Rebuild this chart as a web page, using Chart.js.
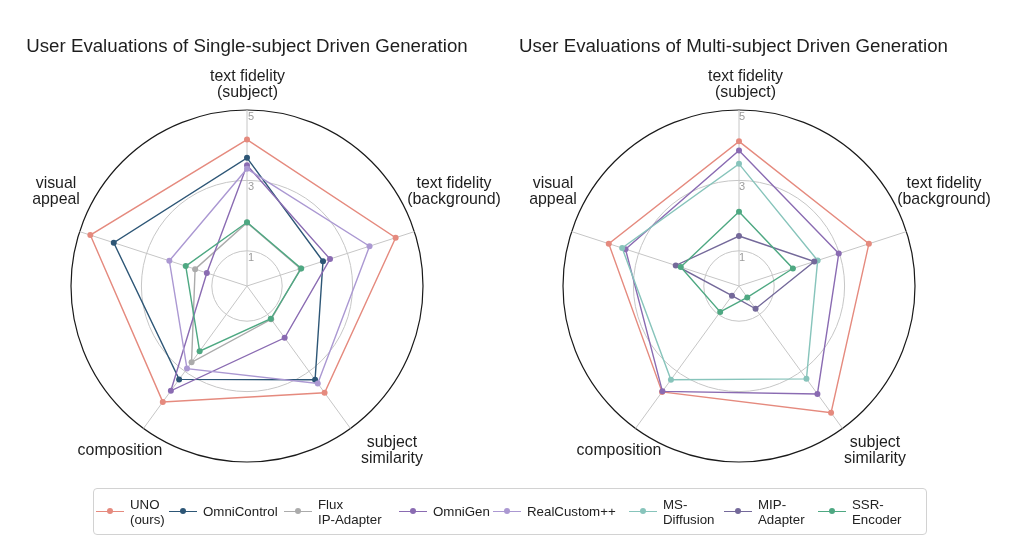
<!DOCTYPE html>
<html><head><meta charset="utf-8">
<script src="https://cdn.jsdelivr.net/npm/chart.js@4.4.1/dist/chart.umd.min.js"></script>
<style>
body{margin:0;background:#fff;width:1014px;height:550px;overflow:hidden;position:relative;font-family:"Liberation Sans",Arial,sans-serif;}
canvas{position:absolute;left:0;top:0;}
#legend{position:absolute;left:93px;top:488px;width:834px;height:47px;border:1px solid #d2d2d2;border-radius:4px;box-sizing:border-box;background:#fff;}
.item{position:absolute;top:0;height:45px;display:flex;align-items:center;}
.sw{position:relative;width:28px;height:1.5px;}
.sw i{position:absolute;left:11px;top:-2.3px;width:6px;height:6px;border-radius:50%;}
.txt{font-size:13.3px;line-height:15px;color:#222;margin-left:6px;white-space:nowrap;}
</style></head>
<body>
<canvas id="c1" width="1014" height="550"></canvas>
<canvas id="c2" width="1014" height="550"></canvas>
<div id="legend"></div>
<script>
// ---- data ----
const axisLabels = [["text fidelity","(subject)"],["text fidelity","(background)"],["subject","similarity"],["composition"],["visual","appeal"]];
const tickValues = [1,3,5];
const legendNames = [["UNO","(ours)"],["OmniControl"],["Flux","IP-Adapter"],["OmniGen"],["RealCustom++"],["MS-","Diffusion"],["MIP-","Adapter"],["SSR-","Encoder"]];
const methods = ["UNO","OmniControl","Flux IP-Adapter","OmniGen","RealCustom++","MS-Diffusion","MIP-Adapter","SSR-Encoder"];
const colors = ["#e58a7e","#2d5676","#ababab","#8a6bb2","#ab98d2","#87c4bb","#74699a","#4ea882"];

const singleTitle = "User Evaluations of Single-subject Driven Generation";
const singleMethods = ["UNO","OmniControl","Flux IP-Adapter","OmniGen","RealCustom++","SSR-Encoder"];
const singleUNO         = [4.16, 4.44, 3.75, 4.07, 4.68];
const singleOmniControl = [3.64, 2.27, 3.29, 3.28, 3.98];
const singleFluxIP      = [1.80, 1.60, 1.17, 2.68, 1.55];
const singleOmniGen     = [3.43, 2.48, 1.82, 3.68, 1.20];
const singleRealCustom  = [3.33, 3.66, 3.42, 2.90, 2.32];
const singleSSR         = [1.81, 1.62, 1.15, 2.29, 1.83];

const multiTitle = "User Evaluations of Multi-subject Driven Generation";
const multiMethods = ["UNO","OmniGen","MS-Diffusion","MIP-Adapter","SSR-Encoder"];
const multiUNO     = [4.11, 3.88, 4.45, 3.72, 3.89];
const multiOmniGen = [3.85, 2.98, 3.79, 3.70, 3.39];
const multiMSD     = [3.47, 2.35, 3.26, 3.29, 3.49];
const multiMIP     = [1.42, 2.25, 0.80, 0.34, 1.89];
const multiSSR     = [2.11, 1.61, 0.40, 0.91, 1.74];

// ---- drawing ----
const FONT = '"Liberation Sans", Arial, Helvetica, sans-serif';
const decor = {
  id: 'decor',
  beforeDatasetsDraw(chart, args, o) {
    const s = chart.scales.r, ctx = chart.ctx;
    ctx.save();
    ctx.font = '11px ' + FONT;
    ctx.fillStyle = '#9c9c9c'; ctx.textAlign = 'center'; ctx.textBaseline = 'middle';
    tickValues.forEach(v => {
      const p = s.getPointPositionForValue(0, v);
      ctx.fillText(String(v), p.x + o.tickDx, p.y + 7);
    });
    ctx.restore();
  },
  afterDraw(chart, args, o) {
    const s = chart.scales.r, ctx = chart.ctx;
    ctx.save();
    ctx.fillStyle = '#1e1e1e'; ctx.textAlign = 'center'; ctx.textBaseline = 'middle';
    ctx.font = '18.7px ' + FONT;
    ctx.fillText(o.title, s.xCenter + o.titleDx, 47);
    ctx.font = '15.9px ' + FONT;
    axisLabels.forEach((lines, i) => {
      const [dx, dy] = o.labelOffsets[i];
      const n = lines.length;
      lines.forEach((t, k) => ctx.fillText(t, s.xCenter + dx, s.yCenter + dy + (k - (n - 1) / 2) * 15.3));
    });
    ctx.restore();
  }
};

function makeChart(id, names, series, padL, padR, plugOpts) {
  return new Chart(document.getElementById(id), {
    type: 'radar',
    data: {
      labels: axisLabels.map(l => l.join(' ')),
      datasets: names.map((n, i) => {
        const c = colors[methods.indexOf(n)];
        return {label: n, data: series[i], borderColor: c, backgroundColor: c,
          pointBackgroundColor: c, pointBorderColor: c, borderWidth: 1.4,
          pointRadius: 3, pointBorderWidth: 0, fill: false, tension: 0,
          order: names.length - i};
      })
    },
    options: {
      responsive: false, animation: false, events: [],
      layout: {padding: {left: padL, right: padR, top: 110, bottom: 88}},
      plugins: {legend: {display: false}, tooltip: {enabled: false}, decor: plugOpts},
      scales: {r: {
        min: 0, max: 5,
        afterBuildTicks: s => { s.ticks = [0, ...tickValues].map(v => ({value: v})); },
        ticks: {display: false},
        pointLabels: {display: false},
        grid: {circular: true,
          color: c => (c.tick && c.tick.value === 5) ? '#1a1a1a' : '#c6c6c6',
          lineWidth: c => (c.tick && c.tick.value === 5) ? 1.2 : 1},
        angleLines: {color: '#c6c6c6', lineWidth: 1}
      }}
    },
    plugins: [decor]
  });
}

makeChart('c1', singleMethods,
  [singleUNO, singleOmniControl, singleFluxIP, singleOmniGen, singleRealCustom, singleSSR],
  71, 591,
  {title: singleTitle, titleDx: 0, tickDx: 4,
   labelOffsets: [[0.5,-201.5],[207,-94.5],[145,164.5],[-127,165],[-191,-94.5]]});

makeChart('c2', multiMethods,
  [multiUNO, multiOmniGen, multiMSD, multiMIP, multiSSR],
  563, 99,
  {title: multiTitle, titleDx: -5.5, tickDx: 3,
   labelOffsets: [[6.5,-201.5],[205,-94.5],[136,164.5],[-120,165],[-186,-94.5]]});

// ---- legend ----
const legendX = [2, 75, 190, 305, 399, 535, 630, 724];
const lg = document.getElementById('legend');
methods.forEach((m, i) => {
  const d = document.createElement('div');
  d.className = 'item'; d.style.left = legendX[i] + 'px';
  d.innerHTML = '<div class="sw" style="background:' + colors[i] + '"><i style="background:' + colors[i] + '"></i></div>' +
    '<div class="txt">' + legendNames[i].join('<br>') + '</div>';
  lg.appendChild(d);
});
</script>
</body></html>
